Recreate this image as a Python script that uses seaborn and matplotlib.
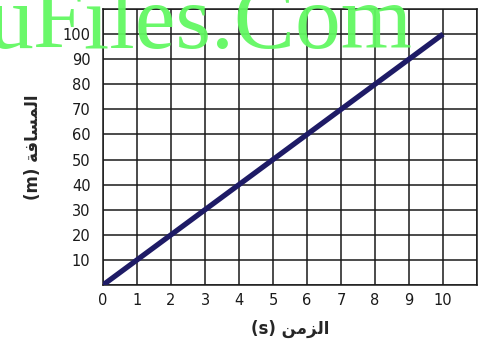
import seaborn as sns
import matplotlib.pyplot as plt
import pandas as pd

sns.set_style("white")
plt.rcParams['font.family'] = ['DejaVu Sans', 'Noto Sans']

# data
time_s = [0, 1, 2, 3, 4, 5, 6, 7, 8, 9, 10]
distance_m = [0, 10, 20, 30, 40, 50, 60, 70, 80, 90, 100]
x_ticks = [0, 1, 2, 3, 4, 5, 6, 7, 8, 9, 10]
y_ticks = [10, 20, 30, 40, 50, 60, 70, 80, 90, 100]

# arabic labels in display order (presentation forms, since mpl has no shaping)
x_label = "(s) \ufee6\ufee3\ufeb0\ufedf\ufe8d"
y_label = "(m) \ufe94\ufed3\ufe8e\ufeb4\ufee4\ufedf\ufe8d"

df = pd.DataFrame({"t": time_s, "d": distance_m})

fig = plt.figure(figsize=(4.78, 3.41), dpi=100)
ax = fig.add_axes([103 / 478, 56 / 341, 374 / 478, 276 / 341])

sns.lineplot(data=df, x="t", y="d", ax=ax, color="#1e1b66", linewidth=3.8,
             solid_capstyle="butt", zorder=3)

ax.set_xlim(0, 11)
ax.set_ylim(0, 110)
ax.set_xticks(range(0, 12))
ax.set_yticks(range(0, 111, 10))
ax.grid(True, color="#1a1a1a", linewidth=1.1)
ax.set_axisbelow(True)
for s in ax.spines.values():
    s.set_color("#1a1a1a")
    s.set_linewidth(1.1)

ax.set_xticklabels([str(v) if v in x_ticks else "" for v in range(0, 12)])
ax.set_yticklabels([str(v) if v in y_ticks else "" for v in range(0, 111, 10)])
ax.tick_params(axis="x", length=0, pad=6, labelsize=10.5, colors="#1a1a1a")
ax.tick_params(axis="y", length=0, pad=9, labelsize=10.5, colors="#1a1a1a")

ax.set_xlabel(x_label, fontsize=12, fontweight="bold", labelpad=8)
ax.set_ylabel(y_label, fontsize=12, fontweight="bold", labelpad=15)

# watermark
fig.text(413 / 478, 1 - 48 / 341, "uFiles.Com", ha="right", va="baseline",
         fontsize=66, family="Liberation Serif", color="#62f862", alpha=0.95,
         zorder=10)

fig.savefig("out.png", dpi=100)
